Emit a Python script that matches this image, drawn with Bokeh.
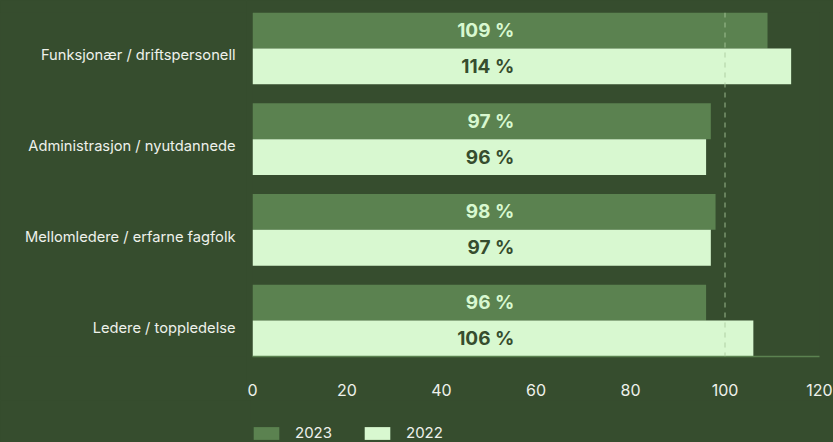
from bokeh.plotting import figure
from bokeh.layouts import column, row
from bokeh.models import (ColumnDataSource, FactorRange, Range1d, FixedTicker, Span,
                          Legend, LegendItem, GlobalInlineStyleSheet)
from bokeh.core.properties import value
from bokeh.embed import file_html
from bokeh.resources import INLINE

categories = ["Funksjonær / driftspersonell", "Administrasjon / nyutdannede",
              "Mellomledere / erfarne fagfolk", "Ledere / toppledelse"]
years = ["2023", "2022"]
values_2023 = [109, 97, 98, 96]
values_2022 = [114, 96, 97, 106]
x_ticks = [0, 20, 40, 60, 80, 100, 120]
reference_value = 100
label_x = 55.4

BG = "#364d2e"
C2023 = "#5b8250"
C2022 = "#d8f8d0"
TXT = "#eef1eb"

factors = [(c, y) for c in reversed(categories) for y in reversed(years)]
y_range = FactorRange(factors=factors, factor_padding=0, group_padding=0.528, range_padding=0)


def style(fig):
    fig.background_fill_color = BG
    fig.border_fill_color = BG
    fig.outline_line_color = None
    fig.grid.visible = False


# main chart
p = figure(width=587, height=400, output_backend="svg", toolbar_location=None,
           y_range=y_range, x_range=Range1d(0, 120),
           min_border_left=6, min_border_right=14, min_border_top=12, min_border_bottom=44)
p.stylesheets = [GlobalInlineStyleSheet(css="body { background-color: %s; }" % BG)]
style(p)
p.yaxis.visible = False

src23 = ColumnDataSource(dict(y=[(c, "2023") for c in categories], v=values_2023,
                              lab=[f"{v} %" for v in values_2023], lx=[label_x] * len(categories)))
src22 = ColumnDataSource(dict(y=[(c, "2022") for c in categories], v=values_2022,
                              lab=[f"{v} %" for v in values_2022], lx=[label_x] * len(categories)))

p.hbar(y="y", left=0, right="v", height=1, source=src23, fill_color=C2023, line_color=None)
p.hbar(y="y", left=0, right="v", height=1, source=src22, fill_color=C2022, line_color=None)

p.add_layout(Span(location=reference_value, dimension="height", line_color="#a9c99c",
                  line_alpha=0.85, line_width=1, line_dash="5 5"))

p.text(x="lx", y="y", text="lab", source=src23, text_align="right", text_baseline="middle",
       text_font=value("Inter"), text_font_style="bold", text_font_size="19px", text_color=C2022)
p.text(x="lx", y="y", text="lab", source=src22, text_align="right", text_baseline="middle",
       text_font=value("Inter"), text_font_style="bold", text_font_size="19px", text_color=BG)

ax = p.xaxis[0]
ax.ticker = FixedTicker(ticks=x_ticks)
ax.axis_line_color = C2023
ax.axis_line_width = 1.5
ax.major_tick_line_color = None
ax.minor_tick_line_color = None
ax.major_label_standoff = 21
ax.major_label_text_font = "Inter"
ax.major_label_text_font_size = "16px"
ax.major_label_text_color = TXT

# category labels, sharing the chart's category scale
cl = figure(width=246, height=400, output_backend="svg", toolbar_location=None,
            y_range=y_range, x_range=Range1d(0, 1),
            min_border_left=0, min_border_right=0, min_border_top=12, min_border_bottom=44)
style(cl)
cl.axis.visible = False
cat_src = ColumnDataSource(dict(y=categories, t=categories, x=[1] * len(categories)))
cl.text(x="x", y="y", text="t", source=cat_src, x_offset=-11, y_offset=7,
        text_align="right", text_baseline="middle", text_font=value("Inter"),
        text_font_size="14.7px", text_color=TXT)

# legend strip below the chart (its bars lie outside the visible x range)
lg = figure(width=833, height=42, output_backend="svg", toolbar_location=None,
            min_border_left=250, min_border_right=0, min_border_top=0, min_border_bottom=0,
            x_range=Range1d(-300, -200), y_range=FactorRange(factors=factors))
style(lg)
lg.axis.visible = False
l23 = lg.hbar(y="y", left=0, right="v", height=1, source=src23, fill_color=C2023, line_color=None)
l22 = lg.hbar(y="y", left=0, right="v", height=1, source=src22, fill_color=C2022, line_color=None)
legend = Legend(items=[LegendItem(label=years[0], renderers=[l23]),
                       LegendItem(label=years[1], renderers=[l22])],
                location="bottom_left", orientation="horizontal",
                glyph_width=32, glyph_height=16, label_height=16, label_width=40,
                label_standoff=13, spacing=26, padding=0, margin=0,
                background_fill_alpha=0, border_line_alpha=0,
                label_text_font="Inter", label_text_font_size="15px", label_text_color=TXT)
lg.add_layout(legend, "center")

layout = column(row(cl, p, spacing=0), lg, spacing=0)
open("out.html", "w").write(file_html(layout, INLINE))
